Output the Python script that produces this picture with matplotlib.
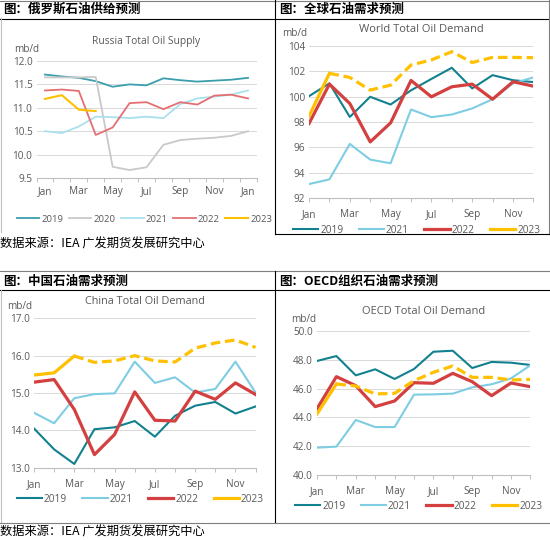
import matplotlib
matplotlib.use('Agg')
import matplotlib.pyplot as plt
from matplotlib.lines import Line2D
import numpy as np

plt.rcParams['font.family'] = ['Open Sans', 'DejaVu Sans']

# ---- data (mb/d) ----
months_13 = ['Jan', 'Feb', 'Mar', 'Apr', 'May', 'Jun', 'Jul', 'Aug', 'Sep', 'Oct', 'Nov', 'Dec', 'Jan']
months_12 = months_13[:12]

ru_2019 = [11.71, 11.67, 11.64, 11.57, 11.45, 11.50, 11.48, 11.63, 11.59, 11.56, 11.58, 11.60, 11.64]
ru_2020 = [11.65, 11.65, 11.65, 11.66, 9.74, 9.67, 9.73, 10.21, 10.31, 10.34, 10.36, 10.40, 10.50]
ru_2021 = [10.50, 10.46, 10.60, 10.81, 10.80, 10.78, 10.81, 10.78, 11.08, 11.20, 11.24, 11.28, 11.37]
ru_2022 = [11.37, 11.39, 11.36, 10.42, 10.58, 11.10, 11.12, 10.97, 11.12, 11.07, 11.26, 11.28, 11.20]
ru_2023 = [11.19, 11.27, 10.96, 10.93]

wd_2019 = [100.04, 101.05, 98.40, 99.99, 99.38, 100.50, 101.40, 102.28, 100.65, 101.70, 101.30, 101.15]
wd_2021 = [93.10, 93.47, 96.27, 95.03, 94.74, 98.99, 98.38, 98.59, 99.07, 99.80, 101.05, 101.52]
wd_2022 = [97.88, 100.99, 99.46, 96.43, 97.93, 101.28, 99.99, 100.78, 100.99, 99.80, 101.18, 100.83]
wd_2023 = [98.46, 101.84, 101.52, 100.52, 100.91, 102.50, 102.90, 103.55, 102.70, 103.10, 103.10, 103.08]

cn_2019 = [14.05, 13.49, 13.10, 14.03, 14.08, 14.25, 13.83, 14.39, 14.66, 14.76, 14.45, 14.64]
cn_2021 = [14.47, 14.19, 14.86, 14.97, 14.99, 15.84, 15.27, 15.42, 15.01, 15.11, 15.84, 15.01]
cn_2022 = [15.29, 15.36, 14.56, 13.35, 13.89, 15.03, 14.27, 14.25, 15.05, 14.83, 15.27, 14.96]
cn_2023 = [15.48, 15.54, 15.99, 15.82, 15.86, 16.00, 15.86, 15.83, 16.20, 16.34, 16.42, 16.22]

oe_2019 = [47.92, 48.26, 46.92, 47.34, 46.67, 47.36, 48.56, 48.63, 47.43, 47.85, 47.80, 47.64]
oe_2021 = [41.90, 41.97, 43.82, 43.33, 43.33, 45.58, 45.60, 45.65, 46.09, 46.30, 46.71, 47.62]
oe_2022 = [44.60, 46.83, 46.20, 44.75, 45.14, 46.41, 46.37, 47.06, 46.48, 45.51, 46.39, 46.13]
oe_2023 = [44.24, 46.32, 46.18, 45.63, 45.67, 46.55, 47.13, 47.57, 46.78, 46.78, 46.60, 46.64]

# ---- style ----
W, H = 550, 540
TXT = '#595959'
GRID = '#D9D9D9'
AXL = '#BFBFBF'
TEAL = '#12818F'
LBLUE = '#7ECDE2'
RED = '#D43F3F'
GOLD = '#FFC000'
FS = 7.2

fig = plt.figure(figsize=(W / 100, H / 100), dpi=100)


def box(x0, y0, x1, y1):
    # pixel box (top-left origin) -> figure fraction rect
    return [x0 / W, 1 - y1 / H, (x1 - x0) / W, (y1 - y0) / H]


def hline(y, x0, x1, c='black', lw=0.8):
    fig.add_artist(Line2D([x0 / W, x1 / W], [1 - y / H, 1 - y / H], color=c, lw=lw))


def vline(x, y0, y1, c='black', lw=0.8):
    fig.add_artist(Line2D([x / W, x / W], [1 - y0 / H, 1 - y1 / H], color=c, lw=lw))


def style_ax(ax, ylim, yticks, fmt):
    ax.set_ylim(*ylim)
    ax.set_yticks(yticks)
    ax.set_yticklabels([fmt % v for v in yticks], fontsize=FS, color=TXT)
    ax.grid(axis='y', color=GRID, lw=0.7)
    ax.set_axisbelow(True)
    for s in ['top', 'right', 'left']:
        ax.spines[s].set_visible(False)
    ax.spines['bottom'].set_color(AXL)
    ax.spines['bottom'].set_linewidth(0.8)
    ax.tick_params(axis='y', length=0, pad=3)
    ax.tick_params(axis='x', which='both', colors=AXL, length=3, width=0.7, labelcolor=TXT,
                   labelsize=FS, pad=3)
    ax.set_facecolor('none')


def month_axis(ax, n):
    x = np.arange(n)
    ax.set_xlim(0, n - 1)
    ax.set_xticks(x, minor=True)
    ax.set_xticks(x[::2])
    ax.set_xticklabels(months_12[::2], fontsize=FS)
    ax.tick_params(axis='x', which='major', pad=5)
    return x


def demand_legend(ax, x_anchor):
    ax.legend(loc='upper center', bbox_to_anchor=(x_anchor, -0.115), ncol=4, frameon=False,
              fontsize=7.3, handlelength=2.5, columnspacing=1.5, handletextpad=0.2, labelcolor=TXT)


# ---- panel frames ----
hline(0.5, 0, 550, c='#7F7F7F')
hline(18.5, 0, 550)
vline(275, 0, 234)
vline(549, 0, 234, c='#7F7F7F')
vline(1, 18, 232, c='#BFBFBF')
hline(234, 275, 550)
hline(271, 0, 550, c='#7F7F7F')
hline(290, 0, 550)
vline(275, 271, 523)
vline(1, 290, 523, c='#BFBFBF')
hline(523, 0, 550, c='#7F7F7F')

cjk_bold = dict(family=['Noto Sans CJK SC', 'DejaVu Sans'], weight='bold', fontsize=9.0, color='black')
cjk = dict(family=['Noto Sans CJK SC', 'DejaVu Sans'], fontsize=8.8, color='black')
fig.text(3 / W, 1 - 9.5 / H, '图：俄罗斯石油供给预测', va='center', **cjk_bold)
fig.text(279 / W, 1 - 9.5 / H, '图：全球石油需求预测', va='center', **cjk_bold)
fig.text(3 / W, 1 - 281 / H, '图：中国石油需求预测', va='center', **cjk_bold)
fig.text(279 / W, 1 - 281 / H, '图：OECD组织石油需求预测', va='center', **cjk_bold)
fig.text(0 / W, 1 - 244 / H, '数据来源：IEA 广发期货发展研究中心', va='center', **cjk)
fig.text(0 / W, 1 - 532 / H, '数据来源：IEA 广发期货发展研究中心', va='center', **cjk)

# ---- Russia total oil supply ----
ax = fig.add_axes(box(36.5, 61, 256.5, 178))
style_ax(ax, (9.5, 12.0), np.arange(9.5, 12.01, 0.5), '%.1f')
x = np.arange(13)
ax.plot(x, ru_2019, color='#3A9EAD', lw=1.3, label='2019')
ax.plot(x, ru_2020, color='#C9C9C9', lw=1.3, label='2020')
ax.plot(x, ru_2021, color='#A9E0EE', lw=1.3, label='2021')
ax.plot(x, ru_2022, color='#E46F72', lw=1.3, label='2022')
ax.plot(x[:len(ru_2023)], ru_2023, color=GOLD, lw=1.5, label='2023')
ax.set_xlim(-0.5, 12.5)
ax.set_xticks(np.arange(-0.5, 13, 1), minor=True)
ax.set_xticks(x[::2])
ax.set_xticklabels(months_13[::2], fontsize=FS)
ax.tick_params(axis='x', which='major', length=0, pad=6)
ax.set_title('Russia Total Oil Supply', fontsize=7.4, color=TXT, pad=12)
ax.text(-0.1, 1.08, 'mb/d', transform=ax.transAxes, fontsize=FS, color=TXT, ha='left')
ax.legend(loc='upper center', bbox_to_anchor=(0.49, -0.24), ncol=5, frameon=False, fontsize=6.8,
          handlelength=2.4, columnspacing=0.6, handletextpad=0.2, labelcolor=TXT)

# ---- World total oil demand ----
ax = fig.add_axes(box(309, 46, 533.4, 198))
style_ax(ax, (92, 104), np.arange(92, 104.1, 2), '%d')
x = month_axis(ax, 12)
ax.plot(x, wd_2019, color=TEAL, lw=1.5, label='2019')
ax.plot(x, wd_2021, color=LBLUE, lw=1.5, label='2021')
ax.plot(x, wd_2022, color=RED, lw=2.3, label='2022')
ax.plot(x[:2], wd_2023[:2], color=GOLD, lw=2.3, label='2023')
ax.plot(x[1:], wd_2023[1:], color=GOLD, lw=2.3, ls=(0, (3, 1.5)))
ax.set_title('World Total Oil Demand', fontsize=8, color=TXT, pad=10)
ax.text(-0.12, 1.065, 'mb/d', transform=ax.transAxes, fontsize=FS, color=TXT, ha='left')
demand_legend(ax, 0.48)

# ---- China total oil demand ----
ax = fig.add_axes(box(34, 318.3, 255.6, 467.7))
style_ax(ax, (13.0, 17.0), np.arange(13.0, 17.01, 1.0), '%.1f')
x = month_axis(ax, 12)
ax.plot(x, cn_2019, color=TEAL, lw=1.5, label='2019')
ax.plot(x, cn_2021, color=LBLUE, lw=1.5, label='2021')
ax.plot(x, cn_2022, color=RED, lw=2.3, label='2022')
ax.plot(x[:3], cn_2023[:3], color=GOLD, lw=2.3, label='2023')
ax.plot(x[2:], cn_2023[2:], color=GOLD, lw=2.3, ls=(0, (3, 1.5)))
ax.set_title('China Total Oil Demand', fontsize=7.8, color=TXT, pad=10)
ax.text(-0.12, 1.065, 'mb/d', transform=ax.transAxes, fontsize=FS, color=TXT, ha='left')
demand_legend(ax, 0.48)

# ---- OECD total oil demand ----
ax = fig.add_axes(box(317, 331, 530.4, 475))
style_ax(ax, (40.0, 50.0), np.arange(40.0, 50.01, 2.0), '%.1f')
x = month_axis(ax, 12)
ax.plot(x, oe_2019, color=TEAL, lw=1.5, label='2019')
ax.plot(x, oe_2021, color=LBLUE, lw=1.5, label='2021')
ax.plot(x, oe_2022, color=RED, lw=2.3, label='2022')
ax.plot(x[:2], oe_2023[:2], color=GOLD, lw=2.3, label='2023')
ax.plot(x[1:], oe_2023[1:], color=GOLD, lw=2.3, ls=(0, (3, 1.5)))
ax.set_title('OECD Total Oil Demand', fontsize=8, color=TXT, pad=12)
ax.text(-0.12, 1.06, 'mb/d', transform=ax.transAxes, fontsize=FS, color=TXT, ha='left')
demand_legend(ax, 0.476)

fig.savefig('out.png', dpi=100)
